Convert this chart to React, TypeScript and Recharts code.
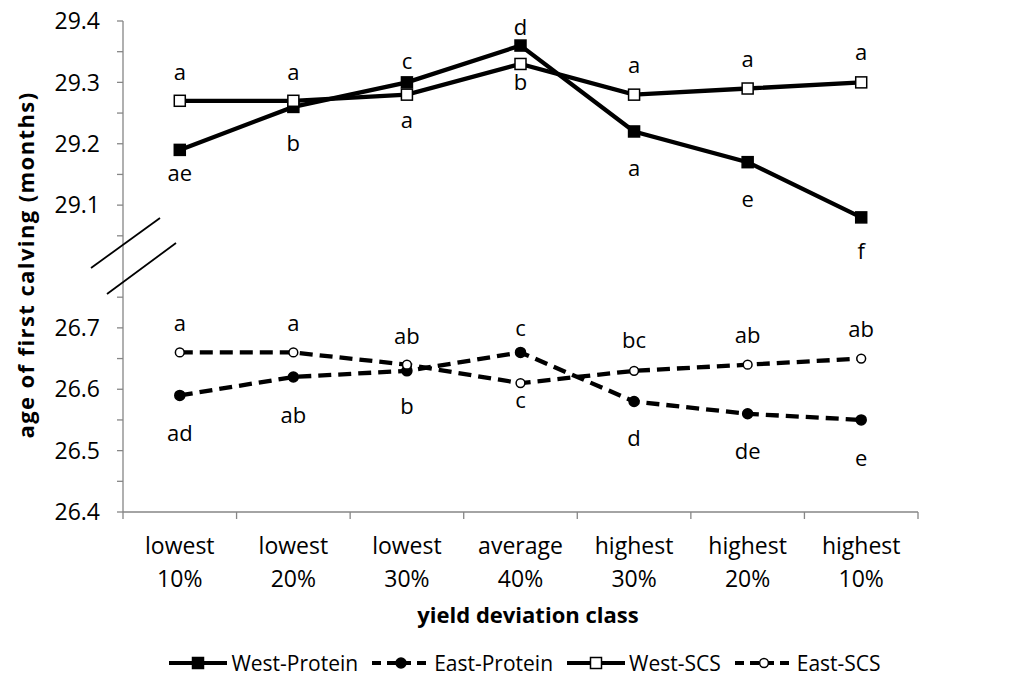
import React from 'react';
import { LineChart, Line, XAxis, YAxis, Legend, LabelList } from 'recharts';

// yield deviation classes (two-line tick labels)
const classTop = ['lowest', 'lowest', 'lowest', 'average', 'highest', 'highest', 'highest'];
const classBottom = ['10%', '20%', '30%', '40%', '30%', '20%', '10%'];

// age of first calving (months)
const westProtein = [29.19, 29.26, 29.3, 29.36, 29.22, 29.17, 29.08];
const eastProtein = [26.59, 26.62, 26.63, 26.66, 26.58, 26.56, 26.55];
const westSCS = [29.27, 29.27, 29.28, 29.33, 29.28, 29.29, 29.3];
const eastSCS = [26.66, 26.66, 26.64, 26.61, 26.63, 26.64, 26.65];

// significance letters
const westProteinLetters = ['ae', 'b', 'c', 'd', 'a', 'e', 'f'];
const eastProteinLetters = ['ad', 'ab', 'b', 'c', 'd', 'de', 'e'];
const westSCSLetters = ['a', 'a', 'a', 'b', 'a', 'a', 'a'];
const eastSCSLetters = ['a', 'a', 'ab', 'c', 'bc', 'ab', 'ab'];

// labelled y ticks (the axis is broken between 26.7 and 29.1)
const yTickLabels = [26.4, 26.5, 26.6, 26.7, 29.1, 29.2, 29.3, 29.4];

// label placement: px from the point, negative = above
const westProteinLabelDy = [22, 35, -22, -20, 36, 36, 33];
const eastProteinLabelDy = [37, 37, 34, -25, 35, 36, 37];
const westSCSLabelDy = [-30, -30, 24, 17, -31, -31, -31];
const eastSCSLabelDy = [-30, -30, -30, 16, -32, -31, -31];

const FONT = "'Open Sans', sans-serif";
const AXIS_COLOR = '#868686';

// chart box covers the whole page (shifted over the body margin)
const W = 1016;
const H = 681;
const PLOT_LEFT = 123;
const PLOT_RIGHT = 918;
const PLOT_TOP = 21;
const HALF_BAND = (PLOT_RIGHT - PLOT_LEFT) / classTop.length / 2;

// the upper block (29.x) is shifted down so 29.1 sits two minor ticks above 26.7
const BREAK_SHIFT = 2.2;
const toAxis = (v: number) => (v > 28 ? Math.round((v - BREAK_SHIFT) * 1000) / 1000 : v);

const yTicks: number[] = [];
for (let k = 0; k <= 16; k++) {
  if (k === 8) continue; // no tick inside the break
  yTicks.push(Math.round((26.4 + k * 0.05) * 1000) / 1000);
}
const yTickText = (t: number) => {
  const hit = yTickLabels.find((v) => Math.abs(toAxis(v) - t) < 1e-6);
  return hit === undefined ? '' : hit.toFixed(1);
};

const data = classTop.map((top, i) => ({
  name: `${top} ${classBottom[i]}`,
  wp: toAxis(westProtein[i]),
  ep: toAxis(eastProtein[i]),
  ws: toAxis(westSCS[i]),
  es: toAxis(eastSCS[i]),
  wpL: westProteinLetters[i],
  epL: eastProteinLetters[i],
  wsL: westSCSLetters[i],
  esL: eastSCSLetters[i],
}));

type Marker = 'square' | 'circle';

function drawMarker(marker: Marker, filled: boolean, cx: number, cy: number, key?: React.Key) {
  const fill = filled ? '#000' : '#fff';
  if (marker === 'square') {
    return <rect key={key} x={cx - 5.5} y={cy - 5.5} width={11} height={11} fill={fill} stroke="#000" strokeWidth={1.5} />;
  }
  return <circle key={key} cx={cx} cy={cy} r={filled ? 5 : 4.4} fill={fill} stroke="#000" strokeWidth={1.5} />;
}

const makeDot = (marker: Marker, filled: boolean) => (props: any) => {
  const { cx, cy, index } = props;
  if (cx == null || cy == null) return <g key={index} />;
  return drawMarker(marker, filled, cx, cy, index);
};

const makeLabel = (letters: string[], offsets: number[]) => (props: any) => {
  const { x, y, index } = props;
  return (
    <text
      key={index}
      x={x}
      y={y + offsets[index]}
      textAnchor="middle"
      dominantBaseline="central"
      fontFamily={FONT}
      fontSize={22}
      fill="#000"
    >
      {letters[index]}
    </text>
  );
};

const SERIES = [
  { key: 'wp', name: 'West-Protein', dashed: false, marker: 'square' as Marker, filled: true, letters: westProteinLetters, dy: westProteinLabelDy },
  { key: 'ep', name: 'East-Protein', dashed: true, marker: 'circle' as Marker, filled: true, letters: eastProteinLetters, dy: eastProteinLabelDy },
  { key: 'ws', name: 'West-SCS', dashed: false, marker: 'square' as Marker, filled: false, letters: westSCSLetters, dy: westSCSLabelDy },
  { key: 'es', name: 'East-SCS', dashed: true, marker: 'circle' as Marker, filled: false, letters: eastSCSLetters, dy: eastSCSLabelDy },
];

/** Two-line category label plus Excel-style tick marks between categories. */
function ClassTick(props: any) {
  const { x, y, payload } = props;
  const i = payload?.index ?? props.index ?? 0;
  const last = i === classTop.length - 1;
  return (
    <g>
      <line x1={x - HALF_BAND} y1={y} x2={x - HALF_BAND} y2={y + 7} stroke={AXIS_COLOR} strokeWidth={1.3} />
      {last && <line x1={x + HALF_BAND} y1={y} x2={x + HALF_BAND} y2={y + 7} stroke={AXIS_COLOR} strokeWidth={1.3} />}
      <text x={x} y={y + 33} textAnchor="middle" dominantBaseline="central" fontFamily={FONT} fontSize={23} fill="#000">
        {classTop[i]}
      </text>
      <text x={x} y={y + 66} textAnchor="middle" dominantBaseline="central" fontFamily={FONT} fontSize={23} fill="#000">
        {classBottom[i]}
      </text>
    </g>
  );
}

function LegendContent() {
  return (
    <div
      style={{
        display: 'flex',
        justifyContent: 'center',
        alignItems: 'center',
        height: 28,
        paddingLeft: 48,
        fontFamily: FONT,
        fontSize: 21,
        color: '#000',
      }}
    >
      {SERIES.map((s) => (
        <div key={s.key} style={{ display: 'flex', alignItems: 'center', marginRight: 14 }}>
          <svg width={58} height={20} style={{ marginRight: 4 }}>
            <line x1={0} y1={10} x2={58} y2={10} stroke="#000" strokeWidth={4} strokeDasharray={s.dashed ? '9 6' : undefined} />
            {drawMarker(s.marker, s.filled, 29, 10)}
          </svg>
          <span>{s.name}</span>
        </div>
      ))}
    </div>
  );
}

export default function App() {
  return (
    <div style={{ position: 'relative', left: -8, top: -8, width: W, height: H }}>
      <LineChart width={W} height={H} data={data} margin={{ top: PLOT_TOP, right: W - PLOT_RIGHT, left: 0, bottom: 4 }}>
        <XAxis
          dataKey="name"
          scale="band"
          height={137}
          stroke={AXIS_COLOR}
          axisLine={{ stroke: AXIS_COLOR, strokeWidth: 1.3 }}
          tickLine={false}
          tickSize={0}
          tickMargin={0}
          interval={0}
          tick={<ClassTick />}
          label={() => (
            <text x={528} y={614} textAnchor="middle" dominantBaseline="central" fontFamily={FONT} fontSize={22} fontWeight="bold" fill="#000">
              yield deviation class
            </text>
          )}
        />
        <YAxis
          type="number"
          domain={[26.4, 27.2]}
          ticks={yTicks}
          interval={0}
          width={PLOT_LEFT}
          axisLine={{ stroke: AXIS_COLOR, strokeWidth: 1.3 }}
          tickLine={{ stroke: AXIS_COLOR, strokeWidth: 1.3 }}
          tickSize={6}
          tickMargin={17}
          tickFormatter={yTickText}
          tick={{ fill: '#000', fontSize: 23, fontFamily: FONT }}
          allowDataOverflow
          label={() => (
            <text
              x={25}
              y={265}
              transform="rotate(-90 25 265)"
              textAnchor="middle"
              dominantBaseline="central"
              fontFamily={FONT}
              fontSize={22}
              fontWeight="bold"
              letterSpacing={1.4}
              fill="#000"
            >
              age of first calving (months)
            </text>
          )}
        />
        <Legend verticalAlign="bottom" content={<LegendContent />} wrapperStyle={{ left: 0, width: W, bottom: 4 }} />
        {SERIES.map((s) => (
          <Line
            key={s.key}
            dataKey={s.key}
            name={s.name}
            stroke="#000"
            strokeWidth={4.3}
            strokeDasharray={s.dashed ? '13 7' : undefined}
            dot={makeDot(s.marker, s.filled)}
            activeDot={false}
            isAnimationActive={false}
          >
            <LabelList dataKey={`${s.key}L`} content={makeLabel(s.letters, s.dy)} />
          </Line>
        ))}
      </LineChart>
      {/* axis break marks */}
      <svg width={W} height={H} style={{ position: 'absolute', left: 0, top: 0, pointerEvents: 'none' }}>
        <line x1={91} y1={268} x2={160} y2={218} stroke="#000" strokeWidth={1.8} />
        <line x1={107} y1={294} x2={176} y2={243} stroke="#000" strokeWidth={1.8} />
      </svg>
    </div>
  );
}
